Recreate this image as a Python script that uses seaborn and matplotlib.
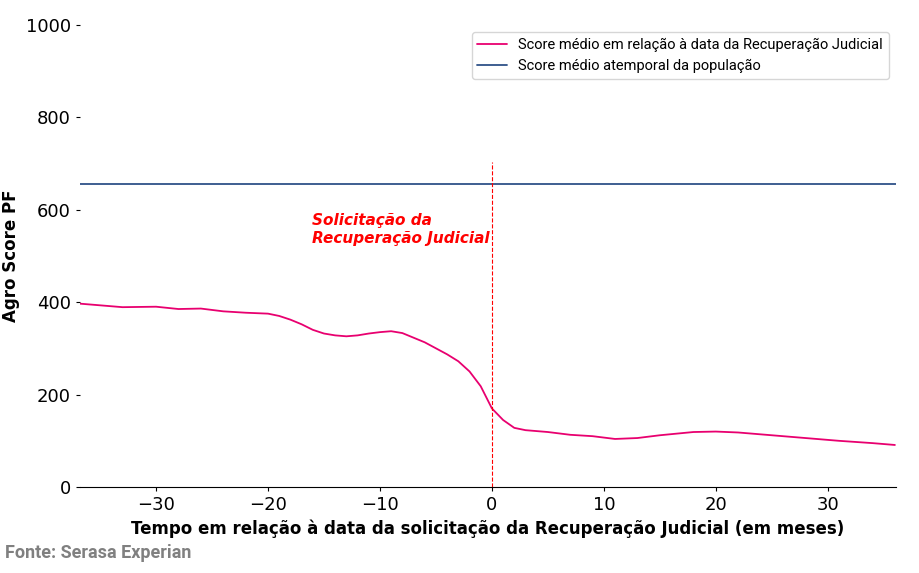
import matplotlib
matplotlib.use("Agg")
import matplotlib.pyplot as plt
import seaborn as sns
import pandas as pd

months = [-37,-36,-33,-30,-28,-26,-24,-22,-20,-19,-18,-17,-16,-15,-14,-13,-12,-11,-10,-9,-8,-7,-6,-5,-4,-3,-2,-1,0,1,2,3,5,7,9,11,13,15,18,20,22,25,28,31,34,36]
score = [397,395,389,390,385,386,380,377,375,370,362,352,340,332,328,326,328,332,335,337,333,323,313,300,287,272,250,218,170,145,128,123,119,113,110,104,106,112,119,120,118,112,106,100,95,91]
pop_mean = 655
rj_month = 0

sns.set_style("white")
plt.rcParams["text.color"] = "black"
plt.rcParams["axes.labelcolor"] = "black"
plt.rcParams["xtick.color"] = "black"
plt.rcParams["ytick.color"] = "black"
fig, ax = plt.subplots(figsize=(9.19, 5.73), dpi=100)
df = pd.DataFrame({"m": months, "s": score})
sns.lineplot(data=df, x="m", y="s", ax=ax, color="#e8006f", lw=1.3,
             label="Score médio em relação à data da Recuperação Judicial")
ax.axhline(pop_mean, color="#2f5288", lw=1.3, label="Score médio atemporal da população")
ax.plot([rj_month, rj_month], [0, 703], color="red", ls="--", lw=0.8)
ax.text(-16.1, 557, "Solicitação da\nRecuperação Judicial", color="red",
        fontsize=11, fontweight="bold", style="italic", va="center")
ax.set_xlim(-36.8, 36.1)
ax.set_ylim(0, 1000)
ax.set_yticks([0, 200, 400, 600, 800, 1000])
for s in ["top", "right", "left"]:
    ax.spines[s].set_visible(False)
ax.spines["bottom"].set_color("black")
ax.tick_params(axis="y", left=True, length=3, labelsize=13)
ax.tick_params(axis="x", bottom=True, length=3, labelsize=13)
ax.set_xlabel("Tempo em relação à data da solicitação da Recuperação Judicial (em meses)",
              fontsize=12, fontweight="bold")
ax.set_ylabel("Agro Score PF", fontsize=12, fontweight="bold")
leg = ax.legend(loc="upper right", frameon=True, prop={"family": "Roboto", "size": 10.5})
fig.text(0.005, 0.027, "Fonte: Serasa Experian", color="gray", fontsize=13,
         fontweight="bold", family="Roboto")
fig.subplots_adjust(left=0.087, right=0.975, top=0.957, bottom=0.15)
fig.savefig("out.png", dpi=100)
